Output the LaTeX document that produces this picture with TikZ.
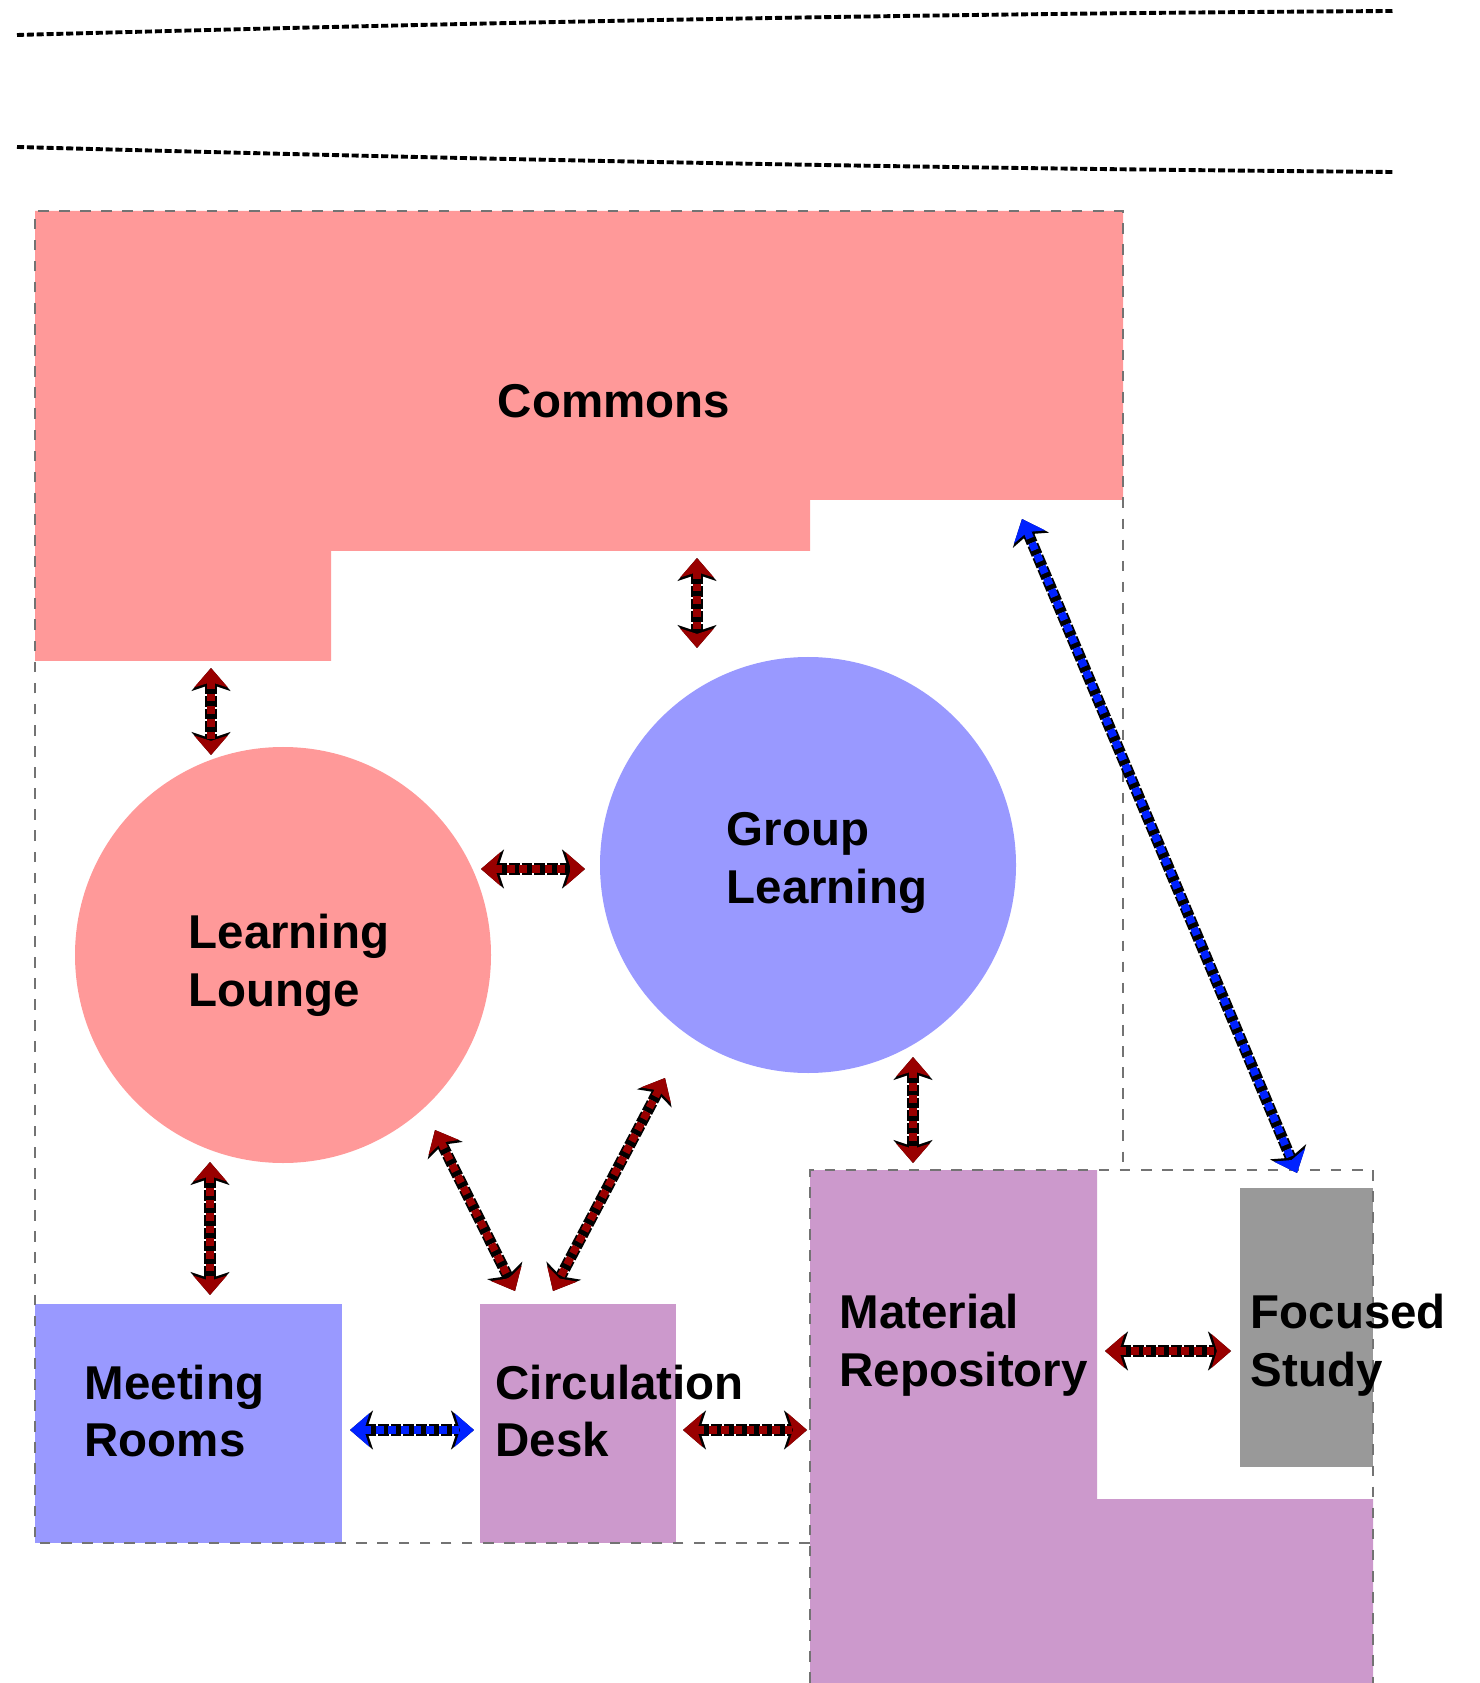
\documentclass[tikz,border=0pt]{standalone}
\usepackage{fontspec}
\setsansfont{Liberation Sans}
\usepackage{tikz}
\usetikzlibrary{arrows.meta}

\definecolor{roompink}{HTML}{FF9999}
\definecolor{roomblue}{HTML}{9999FF}
\definecolor{roompurple}{HTML}{CC99CC}
\definecolor{roomgray}{HTML}{999999}
\definecolor{linkred}{HTML}{990000}
\definecolor{linkblue}{HTML}{0022FF}

\tikzset{
  label/.style={anchor=west,inner sep=0pt,align=left,font=\fontsize{13.5}{16.4}\selectfont\sffamily\bfseries},
  outline/.style={draw=black!55,dashed,line width=0.6pt},
  link/.style={line width=2.2pt,draw=#1,dash pattern=on 2.2pt off 1.4pt,
    {Stealth[length=5.5pt,width=9.5pt,inset=1.5pt,fill=#1]}-{Stealth[length=5.5pt,width=9.5pt,inset=1.5pt,fill=#1]},
    preaction={draw=black,line width=3.2pt,dash pattern=on 3pt off 0.6pt,
      {Stealth[length=6.5pt,width=11pt,inset=1.8pt]}-{Stealth[length=6.5pt,width=11pt,inset=1.8pt]}}}
}

\begin{document}
\begin{tikzpicture}[x=0.01cm,y=-0.01cm]
				\useasboundingbox (0,0) rectangle (1480,1683);
				\fill[white] (0,0) rectangle (1480,1683);

				% street lines
				\draw[line width=1.1pt,dash pattern=on 2pt off 0.8pt] (17,35) .. controls (500,22) and (900,14) .. (1393,11);
				\draw[line width=1.1pt,dash pattern=on 2pt off 0.8pt] (17,147) .. controls (500,160) and (900,168) .. (1393,172);

				% rooms
				\fill[roompink] (35,211) -- (1123,211) -- (1123,500) -- (810,500) -- (810,551)
					-- (331,551) -- (331,661) -- (35,661) -- cycle;
				\fill[roompurple] (810,1170) -- (1097,1170) -- (1097,1499) -- (1373,1499)
					-- (1373,1683) -- (810,1683) -- cycle;
				\fill[roomblue] (35,1304) rectangle (342,1543);
				\fill[roompurple] (480,1304) rectangle (676,1543);
				\fill[roomgray] (1240,1188) rectangle (1373,1467);
				\fill[roompink] (283,955) circle (208);
				\fill[roomblue] (808,865) circle (208);

				% building outline
				\draw[outline] (810,1543) -- (35,1543) -- (35,211) -- (1123,211) -- (1123,1170);
				\draw[outline] (810,1683) -- (810,1170) -- (1373,1170) -- (1373,1683);

				% labels
				\node[label,anchor=center] (commons) at (614,401) {Commons};
				\node[label] (lounge) at (188,965) {Learning\\Lounge};
				\node[label] (group) at (726,863) {Group\\Learning};
				\node[label] (meeting) at (84,1411) {Meeting\\Rooms};
				\node[label] (circ) at (495,1411) {Circulation\\Desk};
				\node[label] (repo) at (839,1345) {Material\\Repository};
				\node[label] (focused) at (1250,1345) {Focused\\Study};

				% link ends
				\coordinate (cg-a) at (697,558);   \coordinate (cg-b) at (697,648);
				\coordinate (cl-a) at (211,668);   \coordinate (cl-b) at (211,755);
				\coordinate (lg-a) at (481,869);   \coordinate (lg-b) at (585,869);
				\coordinate (lm-a) at (210,1162);  \coordinate (lm-b) at (210,1295);
				\coordinate (lc-a) at (435,1130);  \coordinate (lc-b) at (515,1291);
				\coordinate (gc-a) at (665,1078);  \coordinate (gc-b) at (553,1291);
				\coordinate (gr-a) at (913,1057);  \coordinate (gr-b) at (913,1163);
				\coordinate (mc-a) at (350,1430);  \coordinate (mc-b) at (474,1430);
				\coordinate (cr-a) at (683,1430);  \coordinate (cr-b) at (807,1430);
				\coordinate (rf-a) at (1105,1351); \coordinate (rf-b) at (1231,1351);
				\coordinate (cf-a) at (1022,519);  \coordinate (cf-b) at (1297,1173);

				% links
				\draw[link=linkred] (cg-a) -- (cg-b);
				\draw[link=linkred] (cl-a) -- (cl-b);
				\draw[link=linkred] (lg-a) -- (lg-b);
				\draw[link=linkred] (lm-a) -- (lm-b);
				\draw[link=linkred] (lc-a) -- (lc-b);
				\draw[link=linkred] (gc-a) -- (gc-b);
				\draw[link=linkred] (gr-a) -- (gr-b);
				\draw[link=linkblue] (mc-a) -- (mc-b);
				\draw[link=linkred] (cr-a) -- (cr-b);
				\draw[link=linkred] (rf-a) -- (rf-b);
				\draw[link=linkblue] (cf-a) -- (cf-b);
\end{tikzpicture}
\end{document}
